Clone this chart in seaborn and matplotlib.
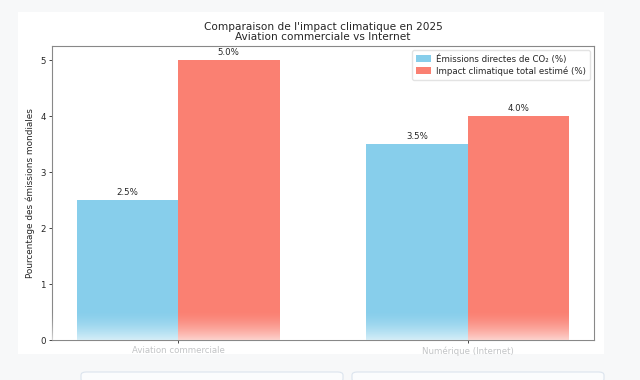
import numpy as np
import pandas as pd
import seaborn as sns
import matplotlib.pyplot as plt
from matplotlib.patches import Rectangle, FancyBboxPatch

# data
sectors = ['Aviation commerciale', 'Numérique (Internet)']
direct_co2 = [2.5, 3.5]
total_impact = [5.0, 4.0]
series_names = ['Émissions directes de CO₂ (%)', 'Impact climatique total estimé (%)']
colors = ['#87CEEB', '#FA8072']

df = pd.DataFrame({
    'Secteur': sectors * 2,
    'Mesure': [series_names[0]] * 2 + [series_names[1]] * 2,
    'Valeur': direct_co2 + total_impact,
})

sns.set_style('white')
plt.rcParams['font.family'] = ['DejaVu Sans']

fig = plt.figure(figsize=(6.4, 3.8), dpi=100)
fig.patch.set_facecolor('#f7f8f9')
# white card behind the chart
fig.patches.append(Rectangle((18 / 640, 1 - 354 / 380), 586 / 640, 342 / 380,
                             transform=fig.transFigure, facecolor='white',
                             edgecolor='none', zorder=-1))

ax = fig.add_axes([52 / 640, 1 - 340 / 380, 542 / 640, 294 / 380])
sns.barplot(data=df, x='Secteur', y='Valeur', hue='Mesure', palette=colors,
            width=0.7, saturation=1, linewidth=0, ax=ax)
ax.set_xlim(-0.435, 1.435)
ax.set_ylim(0, 5.25)

for cont in ax.containers:
    ax.bar_label(cont, labels=[f'{v:.1f}%' for v in cont.datavalues],
                 padding=2, fontsize=6.2)

ax.set_title("Comparaison de l'impact climatique en 2025\nAviation commerciale vs Internet",
             fontsize=7.6, pad=4, linespacing=1.1)
ax.set_xlabel('')
ax.set_ylabel('Pourcentage des émissions mondiales', fontsize=6.4)
ax.tick_params(axis='both', labelsize=6.2, length=2.5, width=0.6, pad=2,
               direction='out', bottom=True, left=True)
ax.tick_params(axis='x', labelcolor='#c2c4c6')
for s in ax.spines.values():
    s.set_linewidth(0.8)
    s.set_color('#888888')
ax.legend(loc='upper right', fontsize=6.2, frameon=True, edgecolor='#dddddd',
          handlelength=1.7, handleheight=0.8, borderpad=0.45, labelspacing=0.3,
          handletextpad=0.6)

# page fade over the bottom of the bars
grad = np.ones((100, 2, 4))
grad[:, :, 3] = (np.linspace(0, 1, 100) ** 1.6 * 0.65)[:, None]
fade_h = 30 / 294
ax.imshow(grad, aspect='auto', extent=(-0.435, 1.435, 0, 5.25 * fade_h),
          origin='upper', zorder=4)
ax.set_xlim(-0.435, 1.435)
ax.set_ylim(0, 5.25)

# bottom page cards
for x0, w in [(81, 262), (352, 252)]:
    fig.patches.append(FancyBboxPatch((x0 / 640, 1 - 382 / 380), w / 640, 10 / 380,
                                      boxstyle='round,pad=0,rounding_size=0.008',
                                      transform=fig.transFigure, facecolor='#fbfcfd',
                                      edgecolor='#dbe4ee', linewidth=0.8, zorder=6))

fig.savefig('out.png', dpi=100, facecolor=fig.get_facecolor())
